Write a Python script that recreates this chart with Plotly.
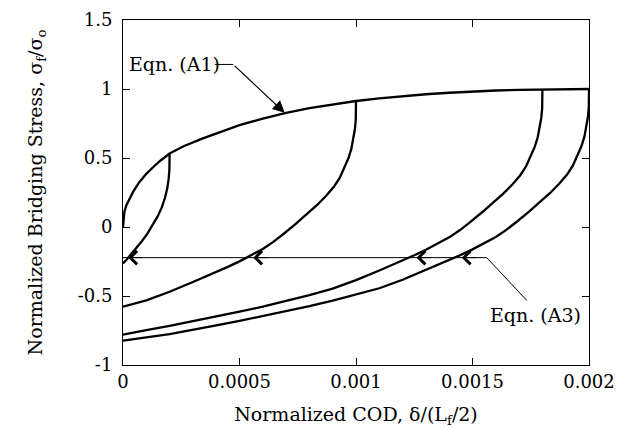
import plotly.graph_objects as go

# Envelope, Eqn. (A1)
env_x = [0, 0.000002, 0.000006, 0.000015, 0.00003, 0.000045, 0.00007, 0.0001, 0.00013, 0.00016,
         0.0002, 0.00026, 0.00034, 0.00042, 0.0005, 0.0006, 0.0007, 0.0008, 0.0009, 0.001,
         0.0011, 0.0012, 0.0013, 0.0014, 0.0015, 0.0016, 0.0017, 0.0018, 0.0019, 0.002]
env_y = [0, 0.06, 0.11, 0.16, 0.215, 0.26, 0.325, 0.385, 0.435, 0.48,
         0.532, 0.585, 0.64, 0.69, 0.738, 0.785, 0.827, 0.862, 0.89, 0.913,
         0.932, 0.948, 0.962, 0.973, 0.982, 0.989, 0.994, 0.997, 0.999, 1.0]

# Unloading curves, Eqn. (A3)
ua_x = [0.0002, 0.0002, 0.000199, 0.000196, 0.00019, 0.00018, 0.000166, 0.000148, 0.000127,
        0.000104, 0.00008, 0.000056, 0.000034, 0.000015, 0]
ua_y = [0.532, 0.47, 0.41, 0.35, 0.28, 0.21, 0.14, 0.075, 0.01,
        -0.05, -0.105, -0.155, -0.205, -0.237, -0.265]

ub_x = [0.001, 0.001, 0.000999, 0.000995, 0.000989, 0.00098, 0.000967, 0.00095, 0.00093,
        0.000905, 0.000872, 0.000832, 0.00079, 0.00074, 0.00069, 0.000645, 0.0006, 0.00055,
        0.0005, 0.00045, 0.0004, 0.00035, 0.0003, 0.0002, 0.0001, 0]
ub_y = [0.913, 0.846, 0.776, 0.706, 0.636, 0.566, 0.496, 0.426, 0.356,
        0.291, 0.226, 0.158, 0.094, 0.021, -0.049, -0.108, -0.159, -0.206,
        -0.249, -0.289, -0.326, -0.364, -0.399, -0.469, -0.531, -0.578]

uc_x = [0.0018, 0.0018, 0.001799, 0.001795, 0.001789, 0.00178, 0.001767, 0.00175, 0.00173,
        0.001705, 0.001672, 0.001632, 0.00159, 0.00154, 0.00149, 0.001445, 0.0014, 0.00135,
        0.0013, 0.00125, 0.0012, 0.00115, 0.0011, 0.001, 0.0009, 0.0008, 0.0007, 0.0006,
        0.0005, 0.0004, 0.0003, 0.0002, 0.0001, 0]
uc_y = [0.997, 0.93, 0.86, 0.79, 0.72, 0.65, 0.58, 0.51, 0.44,
        0.375, 0.31, 0.242, 0.178, 0.105, 0.035, -0.024, -0.075, -0.122,
        -0.165, -0.205, -0.242, -0.28, -0.315, -0.385, -0.447, -0.494, -0.537, -0.577,
        -0.614, -0.649, -0.683, -0.716, -0.748, -0.78]

ud_x = [0.002, 0.002, 0.001999, 0.001995, 0.001989, 0.00198, 0.001967, 0.00195, 0.00193,
        0.001905, 0.001872, 0.001832, 0.00179, 0.00174, 0.00169, 0.001645, 0.0016, 0.00155,
        0.0015, 0.00145, 0.0014, 0.00135, 0.0013, 0.0012, 0.0011, 0.001, 0.0009, 0.0008,
        0.0007, 0.0006, 0.0005, 0.0004, 0.0003, 0.0002, 0.0001, 0]
ud_y = [1.0, 0.933, 0.863, 0.793, 0.723, 0.653, 0.583, 0.513, 0.443,
        0.378, 0.313, 0.245, 0.181, 0.108, 0.038, -0.021, -0.072, -0.119,
        -0.162, -0.202, -0.239, -0.277, -0.312, -0.382, -0.444, -0.491, -0.534, -0.574,
        -0.611, -0.646, -0.68, -0.713, -0.745, -0.777, -0.80, -0.823]

x_ticks = [0, 0.0005, 0.001, 0.0015, 0.002]
x_tick_labels = ["0", "0.0005", "0.001", "0.0015", "0.002"]
y_ticks = [-1, -0.5, 0, 0.5, 1, 1.5]
y_tick_labels = ["-1", "-0.5", "0", "0.5", "1", "1.5"]

# Annotation geometry (data coordinates)
a1_text_pos = [0.000016, 1.178]
a1_knee = [[0.000395, 1.178], [0.000473, 1.178]]
a1_tip = [0.000694, 0.827]
a3_level = -0.222
a3_knee_x = 0.001561
a3_leader_end = [0.001733, -0.532]
a3_text_pos = [0.001567, -0.641]
a3_arrow_x = [0.0000227, 0.000559, 0.00126, 0.001454]

FONT = "DejaVu Serif"

fig = go.Figure()
for xs, ys in [(env_x, env_y), (ua_x, ua_y), (ub_x, ub_y), (uc_x, uc_y), (ud_x, ud_y)]:
    fig.add_trace(go.Scatter(x=xs, y=ys, mode="lines",
                             line=dict(color="black", width=2.3),
                             showlegend=False, hoverinfo="skip"))

shapes = []
shapes.append(dict(type="line", xref="x", yref="y", x0=a1_knee[0][0], y0=a1_knee[0][1],
                   x1=a1_knee[1][0], y1=a1_knee[1][1], line=dict(color="black", width=1)))
shapes.append(dict(type="line", xref="x", yref="y", x0=0, y0=a3_level,
                   x1=a3_knee_x, y1=a3_level, line=dict(color="black", width=1)))
shapes.append(dict(type="line", xref="x", yref="y", x0=a3_knee_x, y0=a3_level,
                   x1=a3_leader_end[0], y1=a3_leader_end[1], line=dict(color="black", width=1)))

annotations = []
annotations.append(dict(x=a1_text_pos[0], y=a1_text_pos[1], xref="x", yref="y",
                        text="Eqn. (A1)", showarrow=False, xanchor="left", yanchor="middle",
                        font=dict(family=FONT, size=19, color="black")))
annotations.append(dict(x=a1_tip[0], y=a1_tip[1], ax=a1_knee[1][0], ay=a1_knee[1][1],
                        xref="x", yref="y", axref="x", ayref="y", text="", showarrow=True,
                        arrowhead=2, arrowsize=2, arrowwidth=1.2, arrowcolor="black"))
annotations.append(dict(x=a3_text_pos[0], y=a3_text_pos[1], xref="x", yref="y",
                        text="Eqn. (A3)", showarrow=False, xanchor="left", yanchor="middle",
                        font=dict(family=FONT, size=19, color="black")))
for ax_ in a3_arrow_x:
    annotations.append(dict(x=ax_, y=a3_level, xref="x", yref="y", ax=16, ay=0,
                            text="", showarrow=True, arrowhead=4, arrowsize=2.6,
                            arrowwidth=1, arrowcolor="black"))

fig.update_layout(
    width=626, height=428,
    margin=dict(l=123, r=37, t=20, b=63, autoexpand=False),
    paper_bgcolor="white", plot_bgcolor="white",
    font=dict(family=FONT, size=19, color="black"),
    shapes=shapes, annotations=annotations,
    xaxis=dict(range=[0, 0.002], tickvals=x_ticks, ticktext=x_tick_labels, automargin=False,
               ticks="inside", ticklen=7, tickcolor="black", showline=True, linecolor="black",
               linewidth=1, mirror="ticks", showgrid=False, zeroline=False,
               title=dict(text="Normalized COD, δ/(L<sub>f</sub>/2)", standoff=28,
                          font=dict(family=FONT, size=19)),
               tickfont=dict(family=FONT, size=18)),
    yaxis=dict(range=[-1, 1.5], tickvals=y_ticks, ticktext=y_tick_labels, automargin=False,
               ticks="inside", ticklen=7, tickcolor="black", showline=True, linecolor="black",
               linewidth=1, mirror="ticks", showgrid=False, zeroline=False,
               title=dict(text="Normalized Bridging Stress, σ<sub>f</sub>/σ<sub>o</sub>", standoff=30,
                          font=dict(family=FONT, size=19)),
               ticklabelstandoff=6,
               tickfont=dict(family=FONT, size=18)),
)

fig.write_html("out.html")
